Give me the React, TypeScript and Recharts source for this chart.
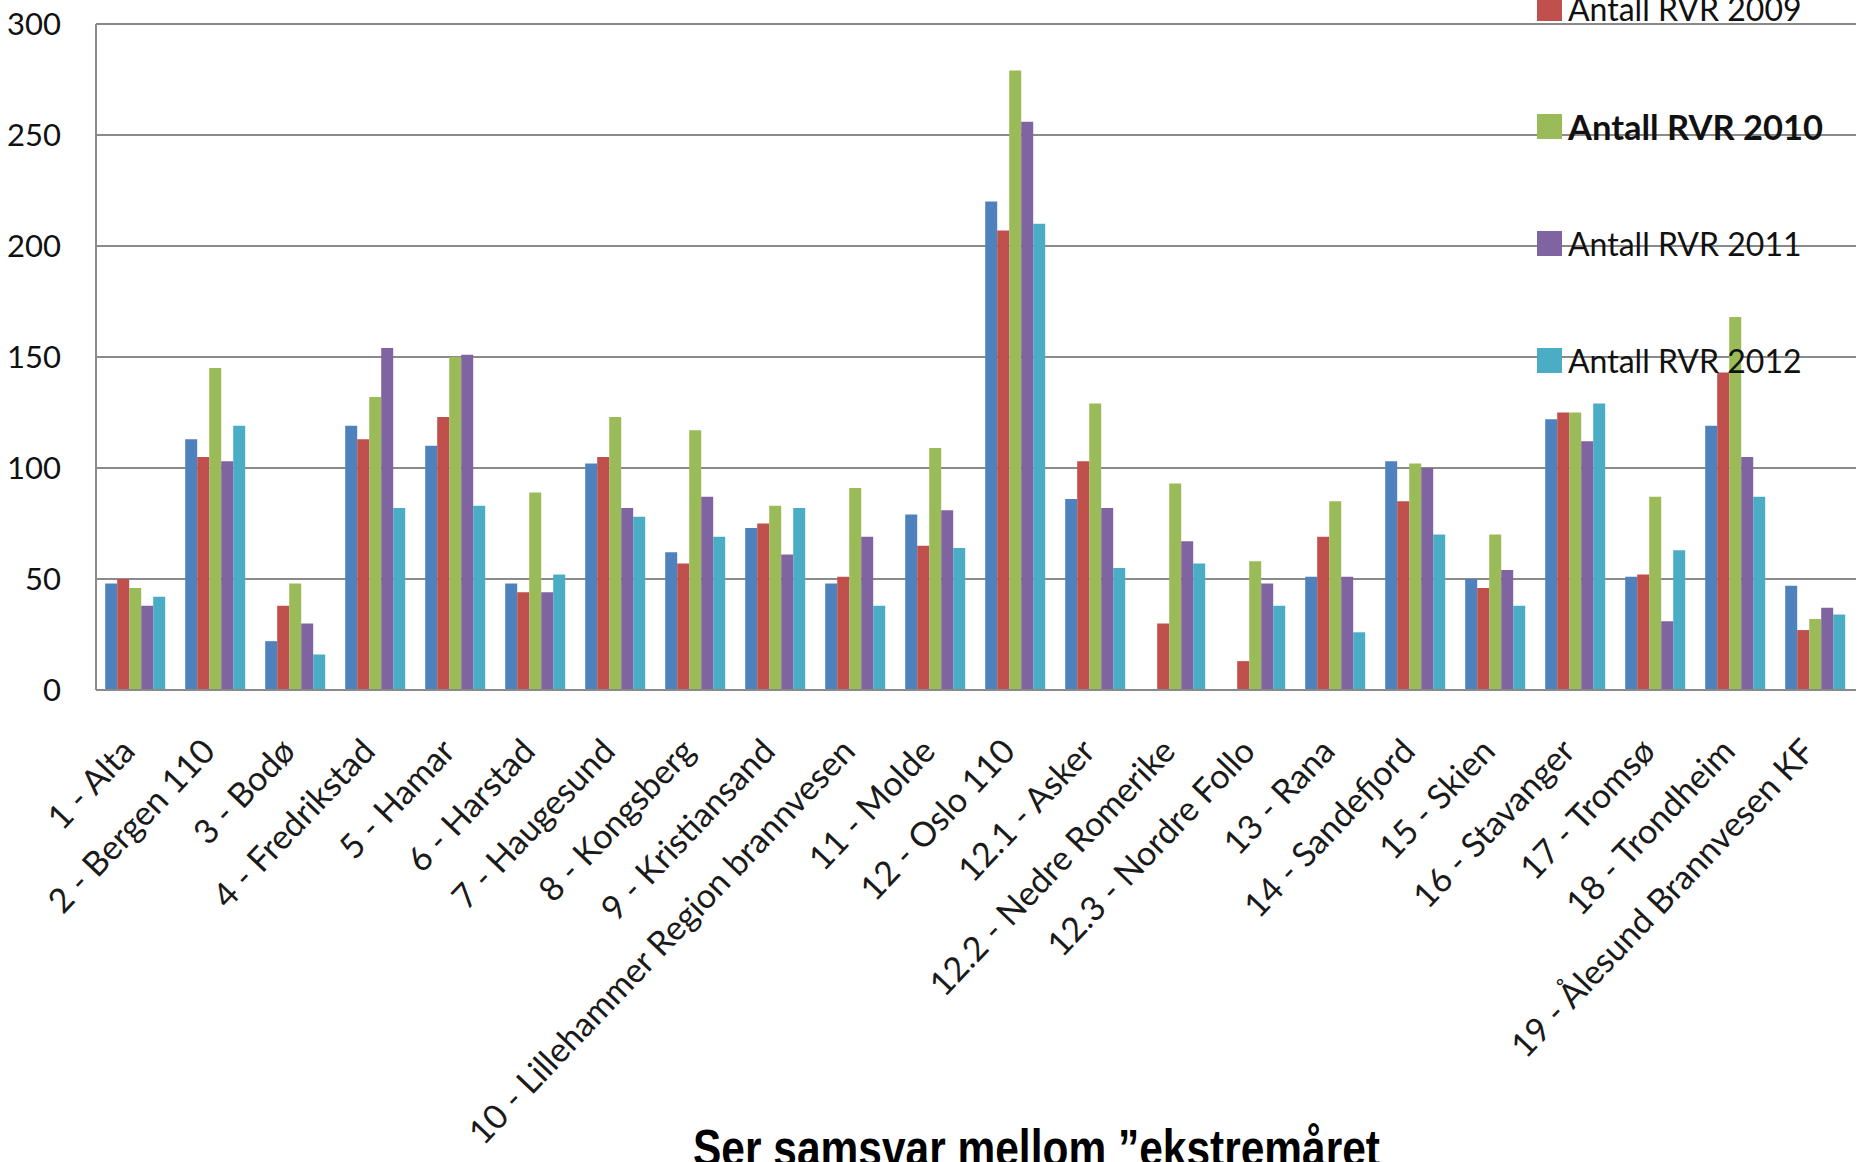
import React from "react";
import { BarChart, Bar, XAxis, YAxis, CartesianGrid, Legend } from "recharts";

const stations = [
  "1 - Alta",
  "2 - Bergen 110",
  "3 - Bodø",
  "4 - Fredrikstad",
  "5 - Hamar",
  "6 - Harstad",
  "7 - Haugesund",
  "8 - Kongsberg",
  "9 - Kristiansand",
  "10 - Lillehammer Region brannvesen",
  "11 - Molde",
  "12 - Oslo 110",
  "12.1 - Asker",
  "12.2 - Nedre Romerike",
  "12.3 - Nordre Follo",
  "13 - Rana",
  "14 - Sandefjord",
  "15 - Skien",
  "16 - Stavanger",
  "17 - Tromsø",
  "18 - Trondheim",
  "19 - Ålesund Brannvesen KF",
];

const rvr2008 = [48, 113, 22, 119, 110, 48, 102, 62, 73, 48, 79, 220, 86, null, null, 51, 103, 50, 122, 51, 119, 47];
const rvr2009 = [50, 105, 38, 113, 123, 44, 105, 57, 75, 51, 65, 207, 103, 30, 13, 69, 85, 46, 125, 52, 143, 27];
const rvr2010 = [46, 145, 48, 132, 150, 89, 123, 117, 83, 91, 109, 279, 129, 93, 58, 85, 102, 70, 125, 87, 168, 32];
const rvr2011 = [38, 103, 30, 154, 151, 44, 82, 87, 61, 69, 81, 256, 82, 67, 48, 51, 100, 54, 112, 31, 105, 37];
const rvr2012 = [42, 119, 16, 82, 83, 52, 78, 69, 82, 38, 64, 210, 55, 57, 38, 26, 70, 38, 129, 63, 87, 34];

const yTicks = [0, 50, 100, 150, 200, 250, 300];

const series = [
  { key: "y2008", name: "Antall RVR 2008", color: "#4F81BD", values: rvr2008 },
  { key: "y2009", name: "Antall RVR 2009", color: "#C0504D", values: rvr2009 },
  { key: "y2010", name: "Antall RVR 2010", color: "#9BBB59", values: rvr2010 },
  { key: "y2011", name: "Antall RVR 2011", color: "#8064A2", values: rvr2011 },
  { key: "y2012", name: "Antall RVR 2012", color: "#4BACC6", values: rvr2012 },
];

const data = stations.map((station, i) => {
  const row: Record<string, string | number | null> = { station };
  series.forEach((s) => {
    row[s.key] = s.values[i];
  });
  return row;
});

const gridColor = "#8a8a8a";

function StationTick({ x, y, payload }: any) {
  const px = x + 1;
  const py = y + 63;
  return (
    <text
      x={px}
      y={py}
      textAnchor="end"
      transform={`rotate(-46.5, ${px}, ${py})`}
      fontFamily="Lato, sans-serif"
      fontSize={34}
      fill="#1a1a1a"
    >
      {payload.value}
    </text>
  );
}

function LegendList({ payload }: any) {
  return (
    <div>
      {(payload || []).map((item: any) => {
        const bold = item.value === "Antall RVR 2010";
        return (
          <div
            key={item.value}
            style={{ height: 117.4, display: "flex", alignItems: "center" }}
          >
            <span
              style={{
                display: "inline-block",
                width: 25,
                height: 25,
                background: item.color,
                marginRight: 6,
              }}
            />
            <span
              style={{
                fontFamily: "Lato, sans-serif",
                fontSize: bold ? 34.5 : 32,
                fontWeight: bold ? 700 : 400,
                color: "#111",
                whiteSpace: "nowrap",
              }}
            >
              {item.value}
            </span>
          </div>
        );
      })}
    </div>
  );
}

export default function App() {
  return (
    <div
      style={{
        position: "absolute",
        left: 0,
        top: 0,
        width: 1863,
        height: 1162,
        overflow: "hidden",
        background: "#fff",
      }}
    >
      <BarChart
        width={1863}
        height={1162}
        data={data}
        margin={{ top: 24, right: 7, left: 0, bottom: 0 }}
        barCategoryGap="11.5%"
        barGap={0}
      >
        <CartesianGrid vertical={false} stroke={gridColor} strokeWidth={2} />
        <XAxis
          dataKey="station"
          height={472}
          interval={0}
          tickSize={0}
          tickMargin={0}
          tick={<StationTick />}
          axisLine={{ stroke: gridColor, strokeWidth: 2 }}
        />
        <YAxis
          width={96}
          domain={[0, 300]}
          ticks={yTicks}
          tickSize={0}
          tickMargin={35}
          axisLine={{ stroke: gridColor, strokeWidth: 2 }}
          tick={{ fontFamily: "Lato, sans-serif", fontSize: 31, fill: "#111" }}
        />
        <Legend
          layout="vertical"
          align="center"
          verticalAlign="middle"
          content={<LegendList />}
          wrapperStyle={{ position: "absolute", left: 1537, top: -167.3, width: 326 }}
        />
        {series.map((s) => (
          <Bar
            key={s.key}
            dataKey={s.key}
            name={s.name}
            fill={s.color}
            isAnimationActive={false}
          />
        ))}
      </BarChart>
      <svg
        width={1863}
        height={1162}
        style={{ position: "absolute", left: 0, top: 0, pointerEvents: "none" }}
      >
        <text
          x={693}
          y={1166}
          textLength={687}
          lengthAdjust="spacingAndGlyphs"
          fontFamily="'Liberation Sans Narrow', 'Arial Narrow', 'Liberation Sans', sans-serif"
          fontWeight={700}
          fontSize={52}
          fill="#000"
        >
          Ser samsvar mellom ”ekstremåret
        </text>
      </svg>
    </div>
  );
}
